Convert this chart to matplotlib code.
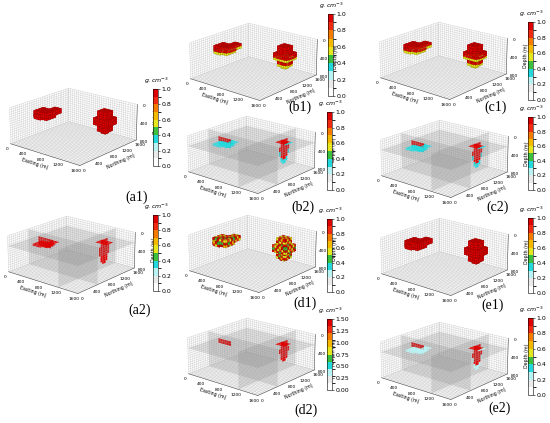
import numpy as np
import matplotlib
matplotlib.use("Agg")
import matplotlib.pyplot as plt
from matplotlib.colors import ListedColormap, BoundaryNorm
from matplotlib.cm import ScalarMappable
from matplotlib.ticker import FixedLocator, FuncFormatter

plt.rcParams['grid.linewidth'] = 0.25
plt.rcParams['grid.color'] = '#c4c4c4'
plt.rcParams['axes.linewidth'] = 0.4

W, H = 550, 423
fig = plt.figure(figsize=(5.5, 4.23), dpi=100)

# model mesh (m)
cell = 50
east_edges = np.arange(0, 1601, cell)
north_edges = np.arange(0, 1601, cell)
depth_edges = np.arange(0, 801, cell)

# anomalous bodies as blocks: (e0, e1, n0, n1, d0, d1)
body_a = [(250, 550, 350, 600, 100, 250),
          (400, 550, 600, 750, 100, 200),
          (300, 450, 300, 350, 150, 250)]
body_b = [(1050, 1250, 1150, 1350, 150, 600),
          (1000, 1300, 1100, 1400, 300, 450),
          (1100, 1200, 1200, 1300, 600, 650)]

# colour scale of the density contrast
level_colors = ['#ffffff', '#eaeaea', '#b8f2f2', '#22d8dc', '#3cbf3c',
                '#e6e61e', '#f5b800', '#f57a00', '#f02a10', '#dc0000']

panel_names = ['a1', 'a2', 'b1', 'b2', 'c1', 'c2', 'd1', 'd2', 'e1', 'e2']
panel_kind = ['vox', 'slice', 'vox', 'slice', 'vox', 'slice', 'vox', 'slice', 'vox', 'slice']
panel_core = [1.0, 1.0, 1.0, 1.0, 1.0, 1.0, 1.0, 1.45, 1.0, 1.0]
panel_rim = [1.0, 1.0, 0.5, 0.35, 0.6, 0.35, 0.5, 0.3, 0.95, 0.3]
panel_vmax = [1.0, 1.0, 1.0, 1.0, 1.0, 1.0, 1.0, 1.5, 1.0, 1.0]
mix_values = [1.0, 0.55, 0.92, 0.45, 0.8, 0.65, 0.98, 0.5]

# layout in pixels: 3D box centre, colourbar (x, top, w, h), label centre
box_center = [(72, 126), (70, 254), (252, 61), (250, 154), (442, 60),
              (443, 158), (251, 253), (250, 356), (443, 256), (443, 360)]
cbar_rect = [(153, 89, 5, 77), (153, 215, 5, 76), (328, 14, 5, 82), (327, 112, 5, 78),
             (528, 22, 5, 78), (528, 117, 5, 73), (327, 219, 5, 73), (327, 319, 5, 71),
             (528, 218, 5, 75), (528, 318, 5, 77)]
label_pos = [(137, 197), (140, 310), (300, 107), (303, 207), (496, 107),
             (498, 207), (305, 303), (306, 410), (493, 305), (500, 408)]

nx, ny, nz = len(east_edges) - 1, len(north_edges) - 1, len(depth_edges) - 1
ec = 0.5 * (east_edges[:-1] + east_edges[1:])
nc = 0.5 * (north_edges[:-1] + north_edges[1:])
dc = 0.5 * (depth_edges[:-1] + depth_edges[1:])
CE, CN, CD = np.meshgrid(ec, nc, dc, indexing='ij')


def build_model(core, rim, mixed):
    rho = np.zeros((nx, ny, nz))
    for b in body_a + body_b:
        m = (CE > b[0]) & (CE < b[1]) & (CN > b[2]) & (CN < b[3]) & (CD > b[4]) & (CD < b[5])
        rho[m] = core
    body = rho > 0
    below = np.zeros_like(body)
    below[:, :, :-1] = body[:, :, 1:]
    rim_cells = body & ~below
    rho[rim_cells] = rim
    if mixed:
        idx = np.argwhere(body)
        for i, j, k in idx:
            rho[i, j, k] = mix_values[(i * 3 + j * 5 + k * 7) % len(mix_values)] * core
    return rho, body


def halo(rho, body, value):
    out = rho.copy()
    grow = np.zeros_like(body)
    grow[:, :, 1:] |= body[:, :, :-1]
    grow[1:, :, :] |= body[:-1, :, :]
    out[grow & ~body] = value
    return out


def style_axes(ax):
    ax.set_xlim(0, 1600)
    ax.set_ylim(0, 1600)
    ax.set_zlim(-800, 0)
    ax.set_box_aspect((1, 1, 0.42), zoom=0.92)
    ax.view_init(elev=19, azim=-50)
    ax.set_facecolor('none')
    ax.xaxis.set_major_locator(FixedLocator(east_edges))
    ax.yaxis.set_major_locator(FixedLocator(north_edges))
    ax.zaxis.set_major_locator(FixedLocator(-depth_edges[::-1]))
    fmt = FuncFormatter(lambda v, p: '%d' % abs(v) if int(round(v)) % 400 == 0 else '')
    for axis in (ax.xaxis, ax.yaxis, ax.zaxis):
        axis.set_major_formatter(fmt)
        axis.set_pane_color((1, 1, 1, 1))
        axis._axinfo['tick']['inward_factor'] = 0
        axis._axinfo['tick']['outward_factor'] = 0
        axis.line.set_linewidth(0.4)
        axis.line.set_color('#555555')
    ax.tick_params(labelsize=3.2, pad=-5)
    ax.zaxis.set_ticks_position('upper')
    ax.zaxis.set_label_position('upper')
    ax.set_xlabel('Easting (m)', fontsize=3.4, labelpad=-13)
    ax.set_ylabel('Northing (m)', fontsize=3.4, labelpad=-13)
    ax.set_zlabel('Depth (m)', fontsize=3.4, labelpad=-13)


for n in range(len(panel_names)):
    vmax = panel_vmax[n]
    bounds = np.linspace(0, vmax, 11)
    cmap = ListedColormap(level_colors)
    norm = BoundaryNorm(bounds, cmap.N)
    cx, cy = box_center[n]
    aw, ah = 175, 140
    ax = fig.add_axes([(cx - aw / 2) / W, 1 - (cy + ah / 2) / H, aw / W, ah / H],
                      projection='3d')
    style_axes(ax)
    rho, body = build_model(panel_core[n], panel_rim[n], panel_names[n] == 'd1')
    if panel_kind[n] == 'vox':
        X, Y, Z = np.meshgrid(east_edges, north_edges, -depth_edges, indexing='ij')
        filled = rho >= 0.2 * vmax
        fc = cmap(norm(rho))
        ecol = fc.copy()
        ecol[..., :3] = ecol[..., :3] * 0.55
        ax.voxels(X, Y, Z, filled, facecolors=fc, edgecolors=ecol, linewidth=0.15,
                  shade=False)
    else:
        rho = halo(rho, body, panel_rim[n])
        gray = np.array([0.55, 0.55, 0.55, 0.25])
        # horizontal slice
        k = 4
        XX, YY = np.meshgrid(east_edges, north_edges, indexing='ij')
        fc = cmap(norm(rho[:, :, k]))
        fc[rho[:, :, k] < 0.2 * vmax] = gray
        ax.plot_surface(XX, YY, np.full_like(XX, -dc[k], dtype=float), facecolors=fc,
                        shade=False, rstride=1, cstride=1, linewidth=0)
        # vertical slice along northing, through body b
        i = 23
        YY, ZZ = np.meshgrid(north_edges, -depth_edges, indexing='ij')
        fc = cmap(norm(rho[i, :, :]))
        fc[rho[i, :, :] < 0.2 * vmax] = gray
        ax.plot_surface(np.full_like(YY, ec[i], dtype=float), YY, ZZ, facecolors=fc,
                        shade=False, rstride=1, cstride=1, linewidth=0)
        # vertical slice along easting, through body a
        j = 10
        XX, ZZ = np.meshgrid(east_edges, -depth_edges, indexing='ij')
        fc = cmap(norm(rho[:, j, :]))
        fc[rho[:, j, :] < 0.2 * vmax] = gray
        ax.plot_surface(XX, np.full_like(XX, nc[j], dtype=float), ZZ, facecolors=fc,
                        shade=False, rstride=1, cstride=1, linewidth=0)

    bx, by, bw, bh = cbar_rect[n]
    cax = fig.add_axes([bx / W, 1 - (by + bh) / H, bw / W, bh / H])
    cb = fig.colorbar(ScalarMappable(norm=norm, cmap=cmap), cax=cax)
    if vmax > 1:
        cb.set_ticks(np.arange(0, 1.51, 0.25))
        cb.ax.yaxis.set_major_formatter(FuncFormatter(lambda v, p: '%.2f' % v))
    else:
        cb.set_ticks(np.arange(0, 1.01, 0.2))
        cb.ax.yaxis.set_major_formatter(FuncFormatter(lambda v, p: '%.1f' % v))
    cb.ax.tick_params(labelsize=4.5, length=1.5, width=0.4, pad=1)
    cb.outline.set_linewidth(0.4)
    fig.text((bx + 3) / W, 1 - (by - 8) / H, r'$g.cm^{-3}$', fontsize=4.5,
             ha='center', va='center')
    lx, ly = label_pos[n]
    fig.text(lx / W, 1 - ly / H, '(%s)' % panel_names[n], fontsize=10,
             family='Liberation Serif', ha='center', va='center')

fig.savefig('out.png', dpi=100)
